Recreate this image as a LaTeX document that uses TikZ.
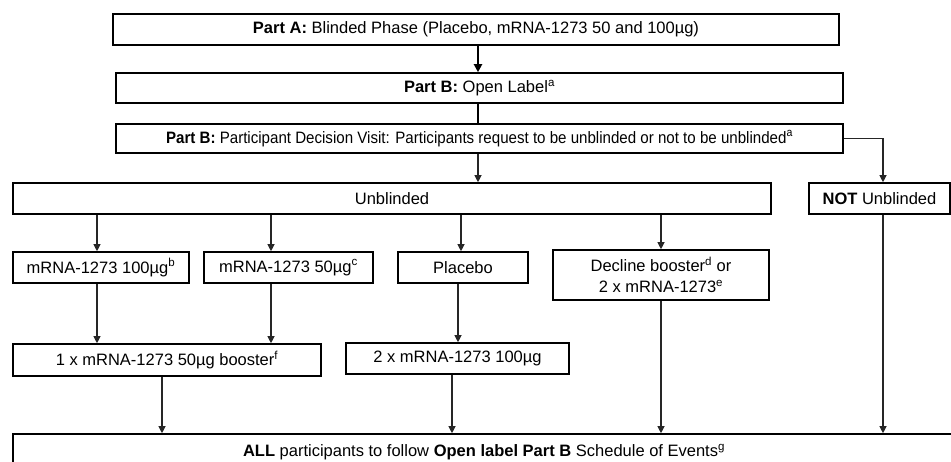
\documentclass[tikz,border=0pt]{standalone}
\usepackage{fontspec}
\usepackage{graphicx}
\setmainfont{Liberation Sans}
\usetikzlibrary{arrows.meta}
\newcommand{\fsz}{\fontsize{16.5}{21}\selectfont}
\begin{document}
\begin{tikzpicture}[x=1pt,y=-1pt,
  box/.style={draw=black,line width=1.6pt,rectangle,inner sep=0pt,font=\fsz,align=center,fill=white},
  arr/.style={draw=black!85,line width=1.1pt,-{Triangle[length=7pt,width=7pt]}},
  heavyarr/.style={draw=black,line width=2.4pt,-{Triangle[length=8pt,width=8pt]}},
  heavyln/.style={draw=black,line width=2.4pt}]
\useasboundingbox (0,0) rectangle (951,461);
\clip (0,0) rectangle (951,461);
% column coordinates
\coordinate (cm) at (478,0);
\coordinate (c1) at (97,0);
\coordinate (c2) at (271,0);
\coordinate (c3) at (461,0);
\coordinate (c3b) at (458,0);
\coordinate (c4) at (661,0);
\coordinate (c5) at (883,0);
\coordinate (cb) at (162,0);
\coordinate (c2x) at (452,0);
% nodes
\node[box,minimum width=726pt,minimum height=31pt] (A) at (476,29.5) {\textbf{Part A:} Blinded Phase (Placebo, mRNA-1273 50 and 100µg)};
\node[box,minimum width=727pt,minimum height=30pt] (B) at (479.5,88) {\textbf{Part B:} Open Label\textsuperscript{a}};
\node[box,minimum width=727pt,minimum height=29pt] (C) at (479.5,138.5) {\scalebox{0.915}[1]{\textbf{Part B:} Participant Decision Visit: Participants request to be unblinded or not to be unblinded\textsuperscript{a}}};
\node[box,minimum width=758pt,minimum height=31pt] (U) at (392,198.5) {Unblinded};
\node[box,minimum width=141pt,minimum height=31pt] (N) at (879.5,198.5) {\textbf{NOT} Unblinded};
\node[box,minimum width=176pt,minimum height=31pt] (b1) at (101,267.5) {mRNA-1273 100µg\textsuperscript{b}};
\node[box,minimum width=169pt,minimum height=31pt] (b2) at (288.5,267.5) {mRNA-1273 50µg\textsuperscript{c}};
\node[box,minimum width=130pt,minimum height=31pt] (pl) at (463,267.5) {Placebo};
\node[box,minimum width=216pt,minimum height=50pt] (dc) at (661,275) {Decline booster\textsuperscript{d} or\\ 2 x mRNA-1273\textsuperscript{e}};
\node[box,minimum width=308pt,minimum height=32pt] (bo) at (167,360) {1 x mRNA-1273 50µg booster\textsuperscript{f}};
\node[box,minimum width=223pt,minimum height=31pt] (tw) at (457.5,358.5) {2 x mRNA-1273 100µg};
\node[box,minimum width=942pt,minimum height=36pt] (all) at (484,452) {\textbf{ALL} participants to follow \textbf{Open label Part B} Schedule of Events\textsuperscript{g}};
% connectors
\draw[heavyarr] (A.south -| cm) -- (B.north -| cm);
\draw[heavyln] (B.south -| cm) -- (C.north -| cm);
\draw[arr] (C.south -| cm) -- (U.north -| cm);
\draw[arr] (C.east) -| (N.north -| c5);
\draw[arr] (U.south -| c1) -- (b1.north -| c1);
\draw[arr] (U.south -| c2) -- (b2.north -| c2);
\draw[arr] (U.south -| c3) -- (pl.north -| c3);
\draw[arr] (U.south -| c4) -- (dc.north -| c4);
\draw[arr] (b1.south -| c1) -- (bo.north -| c1);
\draw[arr] (b2.south -| c2) -- (bo.north -| c2);
\draw[arr] (pl.south -| c3b) -- (tw.north -| c3b);
\draw[arr] (bo.south -| cb) -- (all.north -| cb);
\draw[arr] (tw.south -| c2x) -- (all.north -| c2x);
\draw[arr] (dc.south -| c4) -- (all.north -| c4);
\draw[arr] (N.south -| c5) -- (all.north -| c5);
\end{tikzpicture}
\end{document}
